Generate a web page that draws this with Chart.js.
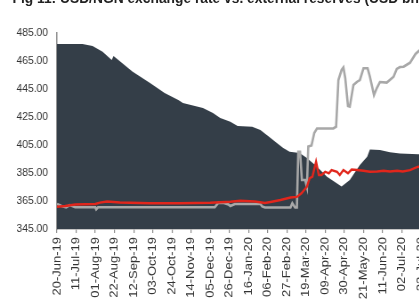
<!DOCTYPE html>
<html>
<head>
<meta charset="utf-8">
<script src="https://cdn.jsdelivr.net/npm/chart.js@4"></script>
<style>
  html, body { margin: 0; padding: 0; background: #fff; overflow: hidden; }
  body { width: 419px; height: 308px; position: relative; }
  #wrap {
    position: absolute; left: 0; top: 0; width: 515px; height: 308px;
    transform: scaleX(0.89); transform-origin: 0 0;
  }
  #title {
    position: absolute; left: 14px; top: -10px; white-space: nowrap;
    font: bold 15.5px 'Liberation Sans', Arial, sans-serif; line-height: 15.5px; color: #222;
  }
  #chart { position: absolute; left: 0; top: 0; }
</style>
</head>
<body>
<div id="wrap">
  <div id="title">Fig 11: USD/NGN exchange rate vs. external reserves (USD bn)</div>
  <canvas id="chart" width="515" height="308"></canvas>
</div>
<script>
// x values are days counted from 20-Jun-19
const startDate = Date.UTC(2019, 5, 20);
const tickStep = 21;
const yTicks = { min: 345, max: 485, step: 20 };

// external reserves, drawn against the left scale
const reserveDays = [0, 28, 39, 50, 60, 62, 71, 83, 102, 118, 133, 138, 160, 171, 179, 190, 198, 214, 223, 230, 241, 248, 255, 266, 274, 285, 296, 312, 321, 332, 340, 343, 354, 365, 376, 396, 410];
const reserveVals = [477.1, 477.1, 475.7, 471.6, 465.7, 468.6, 463.8, 457.4, 449.3, 442.1, 437.1, 435.0, 431.4, 427.9, 424.3, 421.6, 418.6, 418.1, 415.7, 412.1, 406.4, 402.9, 400.2, 399.3, 395.7, 389.5, 382.4, 375.4, 380.0, 390.7, 396.6, 401.8, 401.4, 399.8, 398.9, 398.4, 398.3];

// I&E window rate (red)
const ieDays = [0, 9, 20, 42, 47, 55, 69, 102, 135, 168, 190, 201, 217, 228, 234, 245, 256, 263, 268, 274, 277, 280, 284, 287, 290, 294, 298, 301, 307, 310, 314, 319, 323, 329, 336, 343, 351, 358, 365, 373, 379, 387, 392, 396, 410];
const ieVals = [360.9, 361.4, 362.5, 362.9, 363.8, 364.6, 363.9, 363.4, 363.4, 363.8, 364.5, 365.2, 364.6, 363.6, 364.3, 365.7, 367.5, 367.9, 370.5, 375.2, 381.2, 382.4, 393.1, 383.6, 383.6, 385.9, 384.8, 387.1, 385.9, 383.6, 387.1, 384.8, 387.5, 387.1, 386.6, 385.9, 386.1, 386.6, 386.1, 386.6, 386.1, 387.1, 388.4, 389.5, 389.5];

// parallel market rate (grey)
const parDays = [0, 5, 10, 14, 20, 42, 43, 45, 173, 177, 183, 188, 190, 195, 223, 225, 228, 256, 258, 261, 263, 264.5, 266.5, 268.5, 272, 274, 275.5, 279, 282, 285, 303, 306, 308.5, 312, 314, 316, 319, 321, 325, 329, 332, 336, 340.5, 343, 347.5, 350.5, 354, 361.5, 369, 372.5, 376, 380, 387, 393, 397, 410];
const parVals = [362.9, 361.4, 360.5, 362.1, 360.5, 360.5, 359.1, 360.5, 360.5, 363.8, 363.6, 362.5, 361.4, 362.9, 362.9, 361.1, 360.4, 360.4, 363.4, 360.4, 360.4, 400.2, 400.2, 380.0, 380.0, 375.0, 403.9, 404.6, 413.6, 416.8, 416.8, 418.1, 451.4, 458.6, 460.4, 452.9, 432.9, 432.4, 447.9, 450.2, 451.4, 459.8, 459.8, 453.8, 440.7, 445.5, 450.0, 449.6, 453.8, 459.3, 460.7, 460.9, 463.8, 470.0, 472.4, 476.0];

const months = ['Jan','Feb','Mar','Apr','May','Jun','Jul','Aug','Sep','Oct','Nov','Dec'];
function dayLabel(d) {
    const dt = new Date(startDate + d * 86400000);
    const dd = String(dt.getUTCDate()).padStart(2, '0');
    const yy = String(dt.getUTCFullYear()).slice(2);
    return `${dd}-${months[dt.getUTCMonth()]}-${yy}`;
}

function toPoints(xs, ys) {
    return xs.map((x, i) => ({ x: x, y: ys[i] }));
}

Chart.defaults.font.family = "'Liberation Sans', Arial, sans-serif";
Chart.defaults.color = '#333';

new Chart(document.getElementById('chart'), {
    type: 'line',
    data: {
        datasets: [{
            label: 'I&E rate',
            data: toPoints(ieDays, ieVals),
            borderColor: '#e1261c',
            borderWidth: 2.4,
            pointRadius: 0,
            tension: 0,
            order: 1
        }, {
            label: 'Parallel rate',
            data: toPoints(parDays, parVals),
            borderColor: '#a8a8a8',
            borderWidth: 2.6,
            pointRadius: 0,
            tension: 0,
            order: 2
        }, {
            label: 'External reserves',
            data: toPoints(reserveDays, reserveVals),
            borderWidth: 0,
            borderColor: 'rgba(0,0,0,0)',
            backgroundColor: '#343e48',
            fill: 'start',
            pointRadius: 0,
            tension: 0,
            order: 3
        }]
    },
    options: {
        responsive: false,
        animation: false,
        devicePixelRatio: 1,
        layout: { padding: { top: 33, left: 0, right: 0, bottom: 0 } },
        plugins: {
            legend: { display: false },
            tooltip: { enabled: false }
        },
        scales: {
            x: {
                type: 'linear',
                min: 0,
                max: 440,
                border: { display: true, color: '#8c8c8c', width: 1.5 },
                grid: { drawOnChartArea: false, drawTicks: true, tickLength: 4, color: '#8c8c8c', lineWidth: 1.2 },
                ticks: {
                    stepSize: tickStep,
                    includeBounds: false,
                    autoSkip: false,
                    minRotation: 90,
                    maxRotation: 90,
                    padding: 4,
                    font: { size: 13 },
                    color: '#333',
                    callback: (v) => dayLabel(v)
                },
                afterFit(scale) {
                    scale.height = 79;
                    scale.paddingLeft = 0;
                    scale.paddingRight = 0;
                }
            },
            y: {
                min: yTicks.min,
                max: yTicks.max,
                border: { display: true, color: '#8c8c8c', width: 1.5 },
                grid: { drawOnChartArea: false, drawTicks: false },
                ticks: {
                    stepSize: yTicks.step,
                    padding: 10,
                    font: { size: 11.6 },
                    color: '#333',
                    callback: (v) => v.toFixed(2)
                },
                afterFit(scale) {
                    scale.width = 64;
                }
            }
        }
    }
});
</script>
</body>
</html>
